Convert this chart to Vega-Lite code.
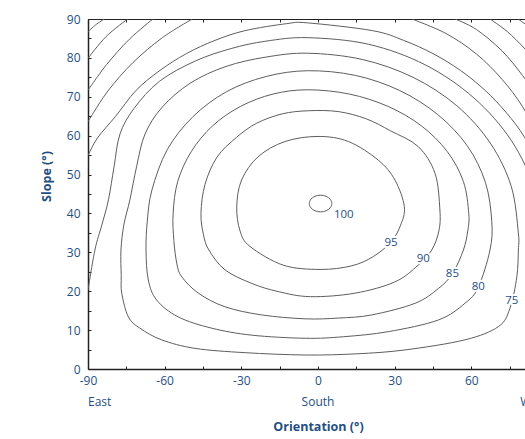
{
  "$schema": "https://vega.github.io/schema/vega-lite/v6.json",
  "width": 437,
  "height": 350,
  "autosize": {"type": "none"},
  "padding": {"left": 88, "top": 19, "right": 0, "bottom": 70},
  "background": "white",
  "config": {"view": {"stroke": null}, "font": "Open Sans"},
  "datasets": {
    "closed": [
      {"k":"100","i":0,"o":5.4,"s":42.55},{"k":"100","i":1,"o":4.81,"s":43.63},{"k":"100","i":2,"o":3.2,"s":44.41},{"k":"100","i":3,"o":1,"s":44.7},{"k":"100","i":4,"o":-1.2,"s":44.41},{"k":"100","i":5,"o":-2.81,"s":43.63},{"k":"100","i":6,"o":-3.4,"s":42.55},{"k":"100","i":7,"o":-2.81,"s":41.47},{"k":"100","i":8,"o":-1.2,"s":40.69},{"k":"100","i":9,"o":1,"s":40.4},{"k":"100","i":10,"o":3.2,"s":40.69},{"k":"100","i":11,"o":4.81,"s":41.47},
      {"k":"95","i":1,"o":33.8,"s":41.7},{"k":"95","i":2,"o":30.1,"s":48.6},{"k":"95","i":3,"o":23.6,"s":53.7},{"k":"95","i":4,"o":11.9,"s":58.5},{"k":"95","i":5,"o":0,"s":59.8},{"k":"95","i":6,"o":-12.9,"s":58.5},{"k":"95","i":7,"o":-23.4,"s":54.6},{"k":"95","i":8,"o":-29.9,"s":48.6},{"k":"95","i":9,"o":-31.8,"s":41.7},{"k":"95","i":10,"o":-30.5,"s":35.5},{"k":"95","i":11,"o":-26.6,"s":31.5},{"k":"95","i":12,"o":-13.6,"s":26.7},{"k":"95","i":13,"o":0.8,"s":25.6},{"k":"95","i":14,"o":13,"s":26.5},{"k":"95","i":15,"o":21.6,"s":28.9},{"k":"95","i":16,"o":28.6,"s":32.7},{"k":"95","i":17,"o":32.2,"s":36.8},
      {"k":"90","i":1,"o":47.7,"s":40.9},{"k":"90","i":2,"o":45.8,"s":50.3},{"k":"90","i":3,"o":39.2,"s":57.2},{"k":"90","i":4,"o":28.5,"s":61.2},{"k":"90","i":5,"o":19,"s":64.3},{"k":"90","i":6,"o":7.9,"s":66.2},{"k":"90","i":7,"o":-4,"s":66.4},{"k":"90","i":8,"o":-14,"s":65.6},{"k":"90","i":9,"o":-24,"s":63.2},{"k":"90","i":10,"o":-32,"s":59.5},{"k":"90","i":11,"o":-39.5,"s":54.5},{"k":"90","i":12,"o":-44.2,"s":47.5},{"k":"90","i":13,"o":-45.8,"s":40},{"k":"90","i":14,"o":-44.8,"s":34.5},{"k":"90","i":15,"o":-42.7,"s":30.6},{"k":"90","i":16,"o":-36.4,"s":25.5},{"k":"90","i":17,"o":-25.9,"s":22},{"k":"90","i":18,"o":-15.5,"s":19.9},{"k":"90","i":19,"o":-3,"s":18.6},{"k":"90","i":20,"o":14.5,"s":19.5},{"k":"90","i":21,"o":30.1,"s":22.4},{"k":"90","i":22,"o":39.2,"s":26.7},{"k":"90","i":23,"o":44.5,"s":30.6},{"k":"90","i":24,"o":47.3,"s":35.5},
      {"k":"85","i":1,"o":59,"s":40},{"k":"85","i":2,"o":56.9,"s":48.2},{"k":"85","i":3,"o":50.6,"s":55.9},{"k":"85","i":4,"o":40.5,"s":62.5},{"k":"85","i":5,"o":27.5,"s":67.5},{"k":"85","i":6,"o":12.3,"s":70.7},{"k":"85","i":7,"o":-4,"s":71.8},{"k":"85","i":8,"o":-17.6,"s":70.7},{"k":"85","i":9,"o":-30.4,"s":67.5},{"k":"85","i":10,"o":-41.3,"s":62.5},{"k":"85","i":11,"o":-49.6,"s":55.9},{"k":"85","i":12,"o":-54.9,"s":48.2},{"k":"85","i":13,"o":-56.7,"s":40},{"k":"85","i":14,"o":-56.4,"s":33},{"k":"85","i":15,"o":-55.2,"s":27},{"k":"85","i":16,"o":-53.3,"s":23.7},{"k":"85","i":17,"o":-46.8,"s":19.5},{"k":"85","i":18,"o":-36.4,"s":16},{"k":"85","i":19,"o":-22,"s":13.9},{"k":"85","i":20,"o":-5,"s":12.9},{"k":"85","i":21,"o":8,"s":13.1},{"k":"85","i":22,"o":21,"s":13.9},{"k":"85","i":23,"o":38,"s":16.9},{"k":"85","i":24,"o":47.1,"s":20.7},{"k":"85","i":25,"o":52.6,"s":24.5},{"k":"85","i":26,"o":56.9,"s":30.6},{"k":"85","i":27,"o":58.6,"s":35.5},
      {"k":"80","i":1,"o":68,"s":38},{"k":"80","i":2,"o":65.5,"s":48},{"k":"80","i":3,"o":58.4,"s":57.4},{"k":"80","i":4,"o":46.9,"s":65.4},{"k":"80","i":5,"o":32,"s":71.6},{"k":"80","i":6,"o":14.6,"s":75.5},{"k":"80","i":7,"o":-4,"s":76.7},{"k":"80","i":8,"o":-20.4,"s":75.2},{"k":"80","i":9,"o":-35.8,"s":71.3},{"k":"80","i":10,"o":-48.9,"s":64.9},{"k":"80","i":11,"o":-59,"s":56.4},{"k":"80","i":12,"o":-65,"s":46},{"k":"80","i":13,"o":-66.8,"s":38},{"k":"80","i":14,"o":-67.3,"s":30.6},{"k":"80","i":15,"o":-66.4,"s":22.9},{"k":"80","i":16,"o":-63.1,"s":17.7},{"k":"80","i":17,"o":-54.7,"s":13.4},{"k":"80","i":18,"o":-41.6,"s":10.5},{"k":"80","i":19,"o":-25.9,"s":8.7},{"k":"80","i":20,"o":-5,"s":7.9},{"k":"80","i":21,"o":10,"s":8.3},{"k":"80","i":22,"o":27.5,"s":9.6},{"k":"80","i":23,"o":47.1,"s":12.6},{"k":"80","i":24,"o":57.5,"s":16.9},{"k":"80","i":25,"o":62.7,"s":21},{"k":"80","i":26,"o":67.3,"s":30.6},
      {"k":"75","i":1,"o":78.4,"s":35},{"k":"75","i":2,"o":75.6,"s":47},{"k":"75","i":3,"o":67.4,"s":58.1},{"k":"75","i":4,"o":54.3,"s":67.7},{"k":"75","i":5,"o":37.2,"s":75},{"k":"75","i":6,"o":17.3,"s":79.6},{"k":"75","i":7,"o":-4,"s":81.2},{"k":"75","i":8,"o":-20.4,"s":80.2},{"k":"75","i":9,"o":-36,"s":77.8},{"k":"75","i":10,"o":-50,"s":73.5},{"k":"75","i":11,"o":-61,"s":67.3},{"k":"75","i":12,"o":-67.7,"s":60.4},{"k":"75","i":13,"o":-71,"s":52},{"k":"75","i":14,"o":-73.6,"s":43.5},{"k":"75","i":15,"o":-76,"s":37},{"k":"75","i":16,"o":-77.1,"s":30.6},{"k":"75","i":17,"o":-77,"s":24},{"k":"75","i":18,"o":-76.8,"s":19.5},{"k":"75","i":19,"o":-74.2,"s":13.4},{"k":"75","i":20,"o":-69.7,"s":10.5},{"k":"75","i":21,"o":-61.2,"s":7.5},{"k":"75","i":22,"o":-48.1,"s":5.3},{"k":"75","i":23,"o":-28.6,"s":4.2},{"k":"75","i":24,"o":-5,"s":3.6},{"k":"75","i":25,"o":15,"s":3.9},{"k":"75","i":26,"o":34,"s":4.9},{"k":"75","i":27,"o":57.5,"s":7.5},{"k":"75","i":28,"o":70.6,"s":10.9},{"k":"75","i":29,"o":75.1,"s":15.6},{"k":"75","i":30,"o":77.8,"s":23.7},{"k":"75","i":31,"o":78.4,"s":30.6}
    ],
    "open": [
      {"k":"70","i":1,"o":-90,"s":20.3},{"k":"70","i":2,"o":-87.3,"s":30.6},{"k":"70","i":3,"o":-84.6,"s":37},{"k":"70","i":4,"o":-82,"s":43.5},{"k":"70","i":5,"o":-79.8,"s":52},{"k":"70","i":6,"o":-77.5,"s":60.4},{"k":"70","i":7,"o":-72,"s":67},{"k":"70","i":8,"o":-62,"s":74},{"k":"70","i":9,"o":-48,"s":79.2},{"k":"70","i":10,"o":-34,"s":82.4},{"k":"70","i":11,"o":-20.4,"s":84.3},{"k":"70","i":12,"o":-4,"s":85.2},{"k":"70","i":13,"o":19.8,"s":83.5},{"k":"70","i":14,"o":42,"s":78.2},{"k":"70","i":15,"o":61,"s":69.7},{"k":"70","i":16,"o":75.7,"s":58.7},{"k":"70","i":17,"o":84.9,"s":45.8},{"k":"70","i":18,"o":88,"s":32},{"k":"70","i":19,"o":89.3,"s":25},{"k":"70","i":20,"o":90,"s":21},
      {"k":"65","i":1,"o":-90,"s":54.9},{"k":"65","i":2,"o":-86.2,"s":59.5},{"k":"65","i":3,"o":-79.3,"s":64.9},{"k":"65","i":4,"o":-71.1,"s":71.7},{"k":"65","i":5,"o":-61.8,"s":76.8},{"k":"65","i":6,"o":-51.5,"s":81.1},{"k":"65","i":7,"o":-40.3,"s":84.5},{"k":"65","i":8,"o":-28.6,"s":87},{"k":"65","i":9,"o":-12.3,"s":88.8},{"k":"65","i":10,"o":-4,"s":89},{"k":"65","i":11,"o":21.4,"s":87},{"k":"65","i":12,"o":33.5,"s":84.5},{"k":"65","i":13,"o":45,"s":81.1},{"k":"65","i":14,"o":55.7,"s":76.8},{"k":"65","i":15,"o":65.3,"s":71.7},{"k":"65","i":16,"o":73.7,"s":65.9},{"k":"65","i":17,"o":80.9,"s":59.5},{"k":"65","i":18,"o":88.1,"s":50.2},{"k":"65","i":19,"o":90,"s":46.6},
      {"k":"60a","i":1,"o":-90,"s":63.6},{"k":"60a","i":2,"o":-82.2,"s":71.5},{"k":"60a","i":3,"o":-72.4,"s":78.8},{"k":"60a","i":4,"o":-60.9,"s":85.2},{"k":"60a","i":5,"o":-49.2,"s":90},
      {"k":"60b","i":1,"o":36.7,"s":90},{"k":"60b","i":2,"o":50,"s":86.3},{"k":"60b","i":3,"o":62,"s":81},{"k":"60b","i":4,"o":72,"s":74.5},{"k":"60b","i":5,"o":80,"s":67.5},{"k":"60b","i":6,"o":86,"s":60},{"k":"60b","i":7,"o":90,"s":53},
      {"k":"55a","i":1,"o":-90,"s":71.7},{"k":"55a","i":2,"o":-82.7,"s":78.3},{"k":"55a","i":3,"o":-73.8,"s":84.8},{"k":"55a","i":4,"o":-64.6,"s":90},
      {"k":"55b","i":1,"o":53.6,"s":90},{"k":"55b","i":2,"o":62,"s":87.3},{"k":"55b","i":3,"o":72,"s":81.8},{"k":"55b","i":4,"o":80,"s":75.5},{"k":"55b","i":5,"o":88,"s":68},{"k":"55b","i":6,"o":90,"s":66},
      {"k":"50a","i":1,"o":-90,"s":79.9},{"k":"50a","i":2,"o":-82.9,"s":85.5},{"k":"50a","i":3,"o":-74.5,"s":90},
      {"k":"50b","i":1,"o":67.3,"s":90},{"k":"50b","i":2,"o":74,"s":86.8},{"k":"50b","i":3,"o":81,"s":82.3},{"k":"50b","i":4,"o":90,"s":75.5},
      {"k":"45a","i":1,"o":-90,"s":86.7},{"k":"45a","i":2,"o":-87,"s":88.5},{"k":"45a","i":3,"o":-83.6,"s":90},
      {"k":"45b","i":1,"o":78.3,"s":90},{"k":"45b","i":2,"o":84,"s":87.3},{"k":"45b","i":3,"o":90,"s":84}
    ],
    "labels": [
      {"t":"100","o":10.1,"s":39.5},{"t":"95","o":28.6,"s":32.4},{"t":"90","o":41.2,"s":28.2},{"t":"85","o":52.6,"s":24.5},{"t":"80","o":62.7,"s":21.0},{"t":"75","o":75.8,"s":17.5}
    ],
    "dirs": [
      {"t":"East","o":-90,"s":-8.4},{"t":"South","o":0,"s":-8.4},{"t":"West","o":90,"s":-8.4}
    ]
  },
  "resolve": {"axis": {"x": "independent", "y": "independent"}},
  "layer": [
    {
      "data": {"name": "closed"},
      "mark": {"type": "line", "interpolate": "cardinal-closed", "color": "#5e5e5e", "strokeWidth": 1, "clip": true},
      "encoding": {
        "x": {"field": "o", "type": "quantitative", "scale": {"domain": [-90, 81], "nice": false, "zero": false},
          "axis": {"orient": "bottom", "values": [-90,-75,-60,-45,-30,-15,0,15,30,45,60,75], "labelExpr": "datum.value % 30 == 0 ? '' + datum.value : ''",
            "grid": false, "domainColor": "#222222", "domainWidth": 1.5, "tickColor": "#222222", "tickSize": -3, "tickWidth": 1,
            "labelPadding": 9, "labelColor": "#1f4f82", "labelFontSize": 12, "labelFont": "Open Sans", "labelFlush": false,
            "title": "Orientation (°)", "titleColor": "#1f4f82", "titleFont": "Open Sans", "titleFontSize": 12.5, "titleFontWeight": "bold",
            "titleX": 230, "titleY": 57, "titleAlign": "center", "titleBaseline": "middle", "titleAngle": 0}},
        "y": {"field": "s", "type": "quantitative", "scale": {"domain": [0, 90], "nice": false, "zero": false},
          "axis": {"orient": "left", "values": [0,5,10,15,20,25,30,35,40,45,50,55,60,65,70,75,80,85,90], "labelExpr": "datum.value % 10 == 0 ? '' + datum.value : ''",
            "grid": false, "domainColor": "#222222", "domainWidth": 1.5, "tickColor": "#222222", "tickSize": -3, "tickWidth": 1,
            "labelPadding": 11, "labelColor": "#1f4f82", "labelFontSize": 12, "labelFont": "Open Sans", "labelFlush": false,
            "title": "Slope (°)", "titleColor": "#1f4f82", "titleFont": "Open Sans", "titleFontSize": 12.5, "titleFontWeight": "bold",
            "titleX": -42, "titleY": 157, "titleAlign": "center", "titleBaseline": "middle", "titleAngle": 270}},
        "detail": {"field": "k"},
        "order": {"field": "i", "type": "quantitative"}
      }
    },
    {
      "data": {"name": "open"},
      "mark": {"type": "line", "interpolate": "cardinal", "color": "#5e5e5e", "strokeWidth": 1, "clip": true},
      "encoding": {
        "x": {"field": "o", "type": "quantitative", "scale": {"domain": [-90, 81], "nice": false, "zero": false},
          "axis": {"orient": "top", "values": [-90,-75,-60,-45,-30,-15,0,15,30,45,60,75], "labels": false, "title": null, "grid": false,
            "domainColor": "#222222", "domainWidth": 1, "tickColor": "#222222", "tickSize": -3, "tickWidth": 1}},
        "y": {"field": "s", "type": "quantitative", "scale": {"domain": [0, 90], "nice": false, "zero": false}, "axis": null},
        "detail": {"field": "k"},
        "order": {"field": "i", "type": "quantitative"}
      }
    },
    {
      "data": {"name": "labels"},
      "mark": {"type": "text", "fontSize": 11.5, "font": "Open Sans", "fill": "white", "stroke": "white", "strokeWidth": 4, "strokeJoin": "round", "align": "center", "baseline": "middle"},
      "encoding": {
        "x": {"field": "o", "type": "quantitative", "scale": {"domain": [-90, 81], "nice": false, "zero": false}, "axis": null},
        "y": {"field": "s", "type": "quantitative", "scale": {"domain": [0, 90], "nice": false, "zero": false}, "axis": null},
        "text": {"field": "t"}
      }
    },
    {
      "data": {"name": "labels"},
      "mark": {"type": "text", "fontSize": 11.5, "font": "Open Sans", "fill": "#1f4f82", "align": "center", "baseline": "middle"},
      "encoding": {
        "x": {"field": "o", "type": "quantitative", "scale": {"domain": [-90, 81], "nice": false, "zero": false}, "axis": null},
        "y": {"field": "s", "type": "quantitative", "scale": {"domain": [0, 90], "nice": false, "zero": false}, "axis": null},
        "text": {"field": "t"}
      }
    },
    {
      "data": {"name": "dirs"},
      "transform": [{"filter": "datum.t == 'East'"}],
      "mark": {"type": "text", "fontSize": 12, "font": "Open Sans", "fill": "#1f4f82", "align": "left", "baseline": "middle"},
      "encoding": {
        "x": {"field": "o", "type": "quantitative", "scale": {"domain": [-90, 81], "nice": false, "zero": false}, "axis": null},
        "y": {"field": "s", "type": "quantitative", "scale": {"domain": [0, 90], "nice": false, "zero": false}, "axis": null},
        "text": {"field": "t"}
      }
    },
    {
      "data": {"name": "dirs"},
      "transform": [{"filter": "datum.t == 'South'"}],
      "mark": {"type": "text", "fontSize": 12, "font": "Open Sans", "fill": "#1f4f82", "align": "center", "baseline": "middle"},
      "encoding": {
        "x": {"field": "o", "type": "quantitative", "scale": {"domain": [-90, 81], "nice": false, "zero": false}, "axis": null},
        "y": {"field": "s", "type": "quantitative", "scale": {"domain": [0, 90], "nice": false, "zero": false}, "axis": null},
        "text": {"field": "t"}
      }
    },
    {
      "data": {"name": "dirs"},
      "transform": [{"filter": "datum.t == 'West'"}],
      "mark": {"type": "text", "fontSize": 12, "font": "Open Sans", "fill": "#1f4f82", "align": "right", "baseline": "middle"},
      "encoding": {
        "x": {"field": "o", "type": "quantitative", "scale": {"domain": [-90, 81], "nice": false, "zero": false}, "axis": null},
        "y": {"field": "s", "type": "quantitative", "scale": {"domain": [0, 90], "nice": false, "zero": false}, "axis": null},
        "text": {"field": "t"}
      }
    }
  ]
}
